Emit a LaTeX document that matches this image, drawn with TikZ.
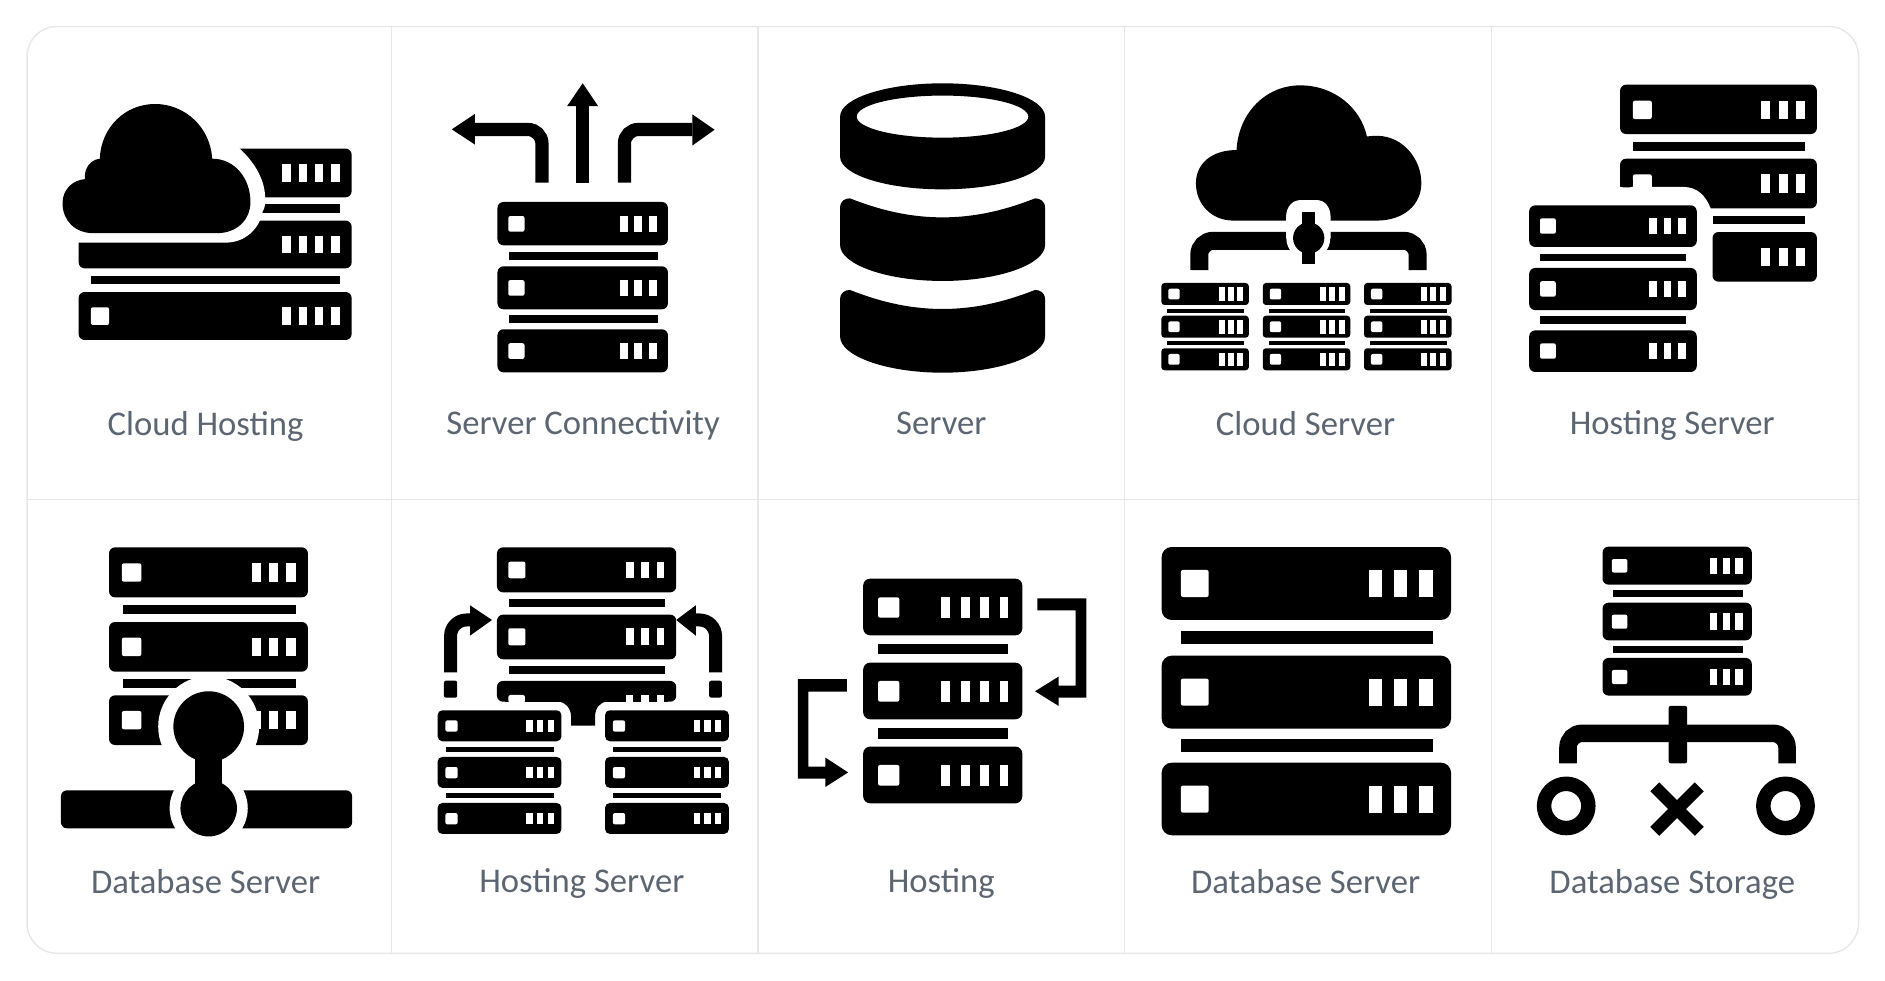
\documentclass[tikz,border=0pt]{standalone}
\usepackage{fontspec}
\setmainfont{Carlito}
\definecolor{panelline}{HTML}{E6E7E8}
\definecolor{labeltext}{HTML}{5C6672}
\tikzset{
  x=0.6pt,y=-0.6pt,
  label text/.style={font=\fontsize{17.3}{19}\selectfont,text=labeltext,inner sep=0pt,anchor=base},
  panel/.style={draw=panelline,line width=0.7pt},
  pipe/.style={draw=black,line width=#1*0.6pt},
  pipe/.default=10.5,
}
% rack body, white lamp, black divider, white bars
\newcommand\ikrack[5][3pt]{\fill[black,rounded corners=#1] (#2,#3) rectangle (#4,#5);}
\newcommand\iksq[4]{\fill[white,rounded corners=1pt] (#1,#2) rectangle (#3,#4);}
\newcommand\ikdiv[4]{\fill[black] (#1,#2) rectangle (#3,#4);}
\newcommand\ikbars[3]{\foreach \ba/\bb in {#3}{\fill[white] (\ba,#1) rectangle (\bb,#2);}}
\begin{document}
\begin{tikzpicture}
\useasboundingbox (0,0) rectangle (1568,815.2);
\fill[white] (0,0) rectangle (1568,815.2);
% panel grid
\draw[panel,rounded corners=15pt] (22.5,22) rectangle (1546,793);
\foreach \px in {325.5,630.5,935.5,1240.5}{\draw[panel] (\px,22) -- (\px,793);}
\draw[panel] (22.5,415.5) -- (1546,415.5);

% ---------- 1 Cloud Hosting
\ikrack{65.4}{242.9}{292.5}{282.8}
\iksq{75.6}{255.6}{90.7}{270.3}
\ikbars{255.6}{270.3}{234.9/241.8,248.4/255.3,261.8/268.8,275.7/282.7}
\ikdiv{75.6}{229.6}{282.7}{236.5}
\ikrack{65.4}{183.5}{292.5}{223.2}
\ikbars{196}{210.7}{234.9/241.8,248.4/255.3,261.8/268.8,275.7/282.7}
\ikdiv{210}{170}{282.7}{176.9}
\ikrack{170}{123.6}{292.5}{164.1}
\ikbars{136.4}{151.1}{234.9/241.8,248.4/255.3,261.8/268.8,275.7/282.7}
\fill[white] (50,201.8) -- (188,201.8) .. controls (204,201.8) and (216,190) .. (218.5,176)
  .. controls (221,172) and (220.6,168) .. (220.6,164.1) .. controls (220,148) and (211,134) .. (197.7,122)
  -- (150,100) -- (50,130) -- cycle;
\fill[black] (78,194) .. controls (62,194) and (52,183) .. (52,169)
  .. controls (52,158) and (60,150) .. (70.5,149)
  .. controls (70,140) and (75,133) .. (83,132)
  .. controls (84,106) and (104,86.5) .. (129,86.5)
  .. controls (154,86.5) and (175,106) .. (176.5,132)
  .. controls (195,132) and (208.3,148) .. (208.3,168)
  .. controls (208.3,183) and (197,194) .. (180,194) -- cycle;
\node[label text] (lab1) at (171,362.5) {Cloud Hosting};

% ---------- 2 Server Connectivity
\foreach \t/\b/\sa/\sb in {168/204/179.7/192.7,221.5/257.3/233/246,273.9/309.7/285.5/298.5}{
  \ikrack{413.8}{\t}{555.6}{\b}
  \iksq{422.8}{\sa}{436.3}{\sb}
  \ikbars{\sa}{\sb}{515.5/522,527.4/534.3,539.6/546.6}
}
\ikdiv{423.2}{209.3}{547}{216}
\ikdiv{423.2}{262.3}{547}{268.9}
\draw[pipe] (484.7,152) -- (484.7,88.2);
\fill[black] (471.8,88.2) -- (484.7,69.3) -- (497.5,88.2) -- cycle;
\draw[pipe=11,rounded corners=7pt] (450.8,152) -- (450.8,107.7) -- (395,107.7);
\fill[black] (395,94.8) -- (375.8,107.6) -- (395,120.2) -- cycle;
\draw[pipe=11,rounded corners=7pt] (519.4,152) -- (519.4,107.7) -- (576,107.7);
\fill[black] (576,95.2) -- (594.4,107.9) -- (576,121) -- cycle;
\node[label text] (lab2) at (485,361.5) {Server Connectivity};

% ---------- 3 Server
\fill[black,even odd rule] (698.8,97) .. controls (698.8,81.7) and (737,69.3) .. (784,69.3)
  .. controls (831,69.3) and (869.3,81.7) .. (869.3,97) -- (869.3,130.3)
  .. controls (869.3,145.3) and (831,157.5) .. (784,157.5)
  .. controls (737,157.5) and (698.8,145.3) .. (698.8,130.3) -- cycle
  (784,97) ellipse [x radius=71.4,y radius=17.5];
\foreach \T/\D/\S/\B in {165/180.8/203.8/233.7,241.2/257/280/310}{
  \fill[black] (698.8,\T+8) .. controls (698.8,\T+2) and (703,\T) .. (707,\T)
    .. controls (730,\T+9) and (755,\D) .. (784,\D)
    .. controls (813,\D) and (838,\T+9) .. (861,\T)
    .. controls (865,\T) and (869.3,\T+2) .. (869.3,\T+8) -- (869.3,\S)
    .. controls (869.3,\S+16) and (831,\B) .. (784,\B)
    .. controls (737,\B) and (698.8,\S+16) .. (698.8,\S) -- cycle;
}
\node[label text] (lab3) at (783,361.5) {Server};

% ---------- 4 Cloud Server
\fill[black] (1026,183.5) .. controls (1008,183.5) and (994.8,170) .. (994.8,152.5)
  .. controls (994.8,136) and (1008,124.8) .. (1028.6,124.8)
  .. controls (1030,95) and (1052,71) .. (1081.6,71)
  .. controls (1110,71) and (1132,90) .. (1137,113.5)
  .. controls (1142,113) and (1145,112.9) .. (1147,113)
  .. controls (1167,114) and (1182.3,132) .. (1182.3,152.5)
  .. controls (1182.3,170) and (1168,183.5) .. (1145,183.5) -- cycle;
\draw[pipe=15,rounded corners=7pt] (997.6,224.6) -- (997.6,200.3) -- (1179.2,200.3) -- (1179.2,224.6);
\fill[white] (1069.8,198) -- (1069.8,180) .. controls (1070,172) and (1075,166.4) .. (1082,166.4)
  -- (1095,166.4) .. controls (1102,166.4) and (1106.5,172) .. (1106.8,180) -- (1106.8,198) -- cycle;
\fill[white] (1088.3,198) circle[radius=18.3];
\fill[black] (1088.6,198) circle[radius=13];
\fill[black] (1083.3,176.6) rectangle (1094,219.9);
\foreach \cx in {966,1050.4,1134.6}{
  \foreach \t in {235.4,262.6,289.7}{
    \ikrack[1.6pt]{\cx}{\t}{\cx+72.8}{\t+18.3}
    \iksq{\cx+5.8}{\t+4.7}{\cx+15.3}{\t+13.7}
    \ikbars{\t+3.6}{\t+15}{\cx+47.8/\cx+52.8,\cx+55.2/\cx+60.2,\cx+63/\cx+68.2}
  }
  \ikdiv{\cx+5}{256.7}{\cx+68.7}{260}
  \ikdiv{\cx+5}{283.9}{\cx+68.7}{287.2}
}
\node[label text] (lab4) at (1086,362.5) {Cloud Server};

% ---------- 5 Hosting Server (pair of stacks)
\ikrack{1347.6}{70.4}{1511.3}{111.5}
\iksq{1358.3}{83.7}{1374}{99}
\ikbars{83.7}{99}{1465.2/1472.6,1479.6/1487,1494/1501.4}
\ikdiv{1358.3}{118.1}{1501.8}{125.6}
\ikrack{1347.6}{132}{1511.3}{173.3}
\ikbars{145}{160.3}{1465.2/1472.6,1479.6/1487,1494/1501.4}
\iksq{1358.3}{145}{1374}{160}
\fill[white] (1340,155.5) -- (1400.3,155.5) .. controls (1412,155.5) and (1419,163) .. (1423,173.4)
  -- (1423,180) -- (1340,180) -- cycle;
\fill[black,rounded corners=1.5pt] (1347.6,148) rectangle (1358.3,155.8);
\ikdiv{1424.5}{179.4}{1501.8}{186.6}
\ikrack{1424.5}{193}{1511.3}{234.3}
\ikbars{206}{221.3}{1465.2/1472.6,1479.6/1487,1494/1501.4}
\foreach \t/\b/\sa/\sb in {170.8/205.4/181.6/194.4,222.9/257.9/233.9/246.7,274.8/309.4/285.6/298.4}{
  \ikrack{1272}{\t}{1411.4}{\b}
  \iksq{1281}{\sa}{1294.2}{\sb}
  \ikbars{\sa}{\sb}{1371.9/1378,1383.8/1390,1396/1402.3}
}
\ikdiv{1281}{211}{1402.3}{217.4}
\ikdiv{1281}{263.1}{1402.3}{269.5}
\node[label text] (lab5) at (1391,361.5) {Hosting Server};

% ---------- 6 Database Server
\foreach \t/\b/\sa/\sb in {455.3/496.9/468.6/483.8,517.4/558.7/530.4/545.7,578.4/619.7/591.4/606.6}{
  \ikrack{90.7}{\t}{256.1}{\b}
  \iksq{101.3}{\sa}{117.6}{\sb}
  \ikbars{\sa}{\sb}{209.6/216.9,223.9/231.6,238.2/246.3}
}
\ikdiv{102.1}{503.2}{246.3}{510.7}
\ikdiv{102.1}{564.8}{246.3}{572.3}
\fill[rounded corners=3pt,black] (50.7,657.4) rectangle (292.9,689);
\fill[white] (173.6,604.4) circle[radius=42];
\fill[white] (173.6,672.3) circle[radius=32.5];
\fill[black] (162.6,610) rectangle (184.6,670);
\fill[black] (173.6,604.4) circle[radius=29.4];
\fill[black] (173.6,672.3) circle[radius=23.5];
\node[label text] (lab6) at (171,743.5) {Database Server};

% ---------- 7 Hosting Server (three stacks)
\ikrack{413.4}{455.3}{562.5}{492.7}
\iksq{422.8}{467.2}{437.1}{481}
\ikbars{467.2}{481}{520.4/527,533.1/540,546.2/552.7}
\ikdiv{423.6}{498.5}{553.1}{505.2}
\ikrack{413.4}{511.3}{562.5}{548.4}
\iksq{422.8}{522.6}{437.1}{536.8}
\ikbars{522.6}{536.8}{520.4/527,533.1/540,546.2/552.7}
\ikdiv{423.6}{554}{553.1}{560.6}
\fill[black,rounded corners=3pt] (413.4,583.7) -- (413.4,566.4) -- (562.5,566.4) -- (562.5,583.7) -- cycle;
\fill[black] (420,583.7) rectangle (556,575);
\fill[black] (464,583.4) .. controls (470,583.7) and (475,589) .. (475,596) -- (475,603.6) -- (495,603.6)
  -- (495,596) .. controls (495,589) and (499,583.7) .. (506,583.4) -- cycle;
\fill[white,rounded corners=1pt] (422.9,578.1) rectangle (436.7,584.5);
\ikbars{578.1}{584.5}{520.5/526.8,533.2/539.9,546.2/552.6}
\foreach \lx/\sx/\dx in {364/370.5/370.9,503.3/509.8/509.8}{
  \foreach \t in {590.8,629.6,667.9}{
    \ikrack[2.4pt]{\lx}{\t}{\lx+103}{\t+25.8}
    \iksq{\sx}{\t+8.4}{\sx+10.2}{\t+17.8}
    \ikbars{\t+8.4}{\t+17.8}{\lx+73.9/\lx+79.2,\lx+82.5/\lx+87.8,\lx+91.5/\lx+96.8}
  }
  \ikdiv{\dx}{621}{\dx+90}{625.5}
  \ikdiv{\dx}{659.6}{\dx+90}{664}
}
\draw[pipe=10.8,rounded corners=8pt] (374.8,559.2) -- (374.8,515.7) -- (391,515.7);
\fill[black] (391,503.5) -- (409.3,515.7) -- (391,528.7) -- cycle;
\fill[black,rounded corners=1pt] (369.3,566.2) rectangle (380.3,580.3);
\draw[pipe=10.8,rounded corners=8pt] (595.2,559.2) -- (595.2,515.7) -- (578.8,515.7);
\fill[black] (578.8,503.5) -- (562.5,515.7) -- (578.8,528.7) -- cycle;
\fill[black,rounded corners=1pt] (589.9,566.2) rectangle (600.5,580.3);
\node[label text] (lab7) at (484,742.5) {Hosting Server};

% ---------- 8 Hosting
\foreach \t/\b/\sa/\sb in {481.3/528.5/496.9/513.8,551.2/598.3/566.4/583.6,621/668.2/636.3/653.5}{
  \ikrack[3.5pt]{718}{\t}{850.4}{\b}
  \iksq{730.4}{\sa}{748.1}{\sb}
  \ikbars{\sa}{\sb}{783/790,799/806.7,815.5/822.6,831.5/838.6}
}
\ikdiv{730.4}{535.4}{838.6}{544.3}
\ikdiv{730.4}{605.5}{838.6}{614.4}
\fill[black] (862.9,497.7) -- (903.7,497.7) -- (903.7,580.3) -- (880.6,580.3) -- (880.6,587.2) -- (861,575)
  -- (880.6,562.8) -- (880.6,570.3) -- (894.8,570.3) -- (894.8,507.7) -- (862.9,507.7) -- cycle;
\fill[black] (704.4,565) -- (663.6,565) -- (663.6,647.7) -- (686.6,647.7) -- (686.6,654.6) -- (705.5,642.5)
  -- (686.6,630.2) -- (686.6,637.7) -- (672.4,637.7) -- (672.4,575.3) -- (704.4,575.3) -- cycle;
\node[label text] (lab8) at (783,742.5) {Hosting};

% ---------- 9 Database Server (large)
\foreach \t/\b/\sa/\sb in {455/515.7/474.1/496.6,545.4/606.1/564.5/587,634.4/694.8/653.5/676}{
  \ikrack[5pt]{966.3}{\t}{1207}{\b}
  \iksq{982.3}{\sa}{1005.4}{\sb}
  \ikbars{\sa}{\sb}{1139/1149.7,1159.7/1170.4,1180.4/1191.7}
}
\ikdiv{982.3}{524.9}{1192.2}{536}
\ikdiv{982.3}{614.4}{1192.2}{625.5}
\node[label text] (lab9) at (1086,743.5) {Database Server};

% ---------- 10 Database Storage
\foreach \t/\b/\sa/\sb in {454.7/486.3/465/476.3,501.3/532.6/511.3/523,547.3/578.6/557.3/569}{
  \ikrack{1333}{\t}{1457.2}{\b}
  \iksq{1340.7}{\sa}{1353.7}{\sb}
  \ikbars{\sa-1}{\sb+1}{1422.3/1428.2,1432.9/1438.9,1443.6/1449.5}
}
\ikdiv{1341.9}{490.8}{1449.5}{496.6}
\ikdiv{1341.9}{537}{1449.5}{542.9}
\draw[pipe=14.6,rounded corners=7pt] (1304.3,634.9) -- (1304.3,610) -- (1486.5,610) -- (1486.5,634.9);
\fill[black,rounded corners=1pt] (1388,587.2) rectangle (1403.4,634.9);
\fill[black,even odd rule] (1302.8,670.4) circle[radius=24.4] (1302.8,670.4) circle[radius=12.4];
\fill[black,even odd rule] (1485.2,670.4) circle[radius=24.4] (1485.2,670.4) circle[radius=12.4];
\draw[pipe=10.5] (1376.5,654.5) -- (1413.5,691.5);
\draw[pipe=10.5] (1413.5,654.5) -- (1376.5,691.5);
\node[label text] (lab10) at (1391,743.5) {Database Storage};
\end{tikzpicture}
\end{document}
